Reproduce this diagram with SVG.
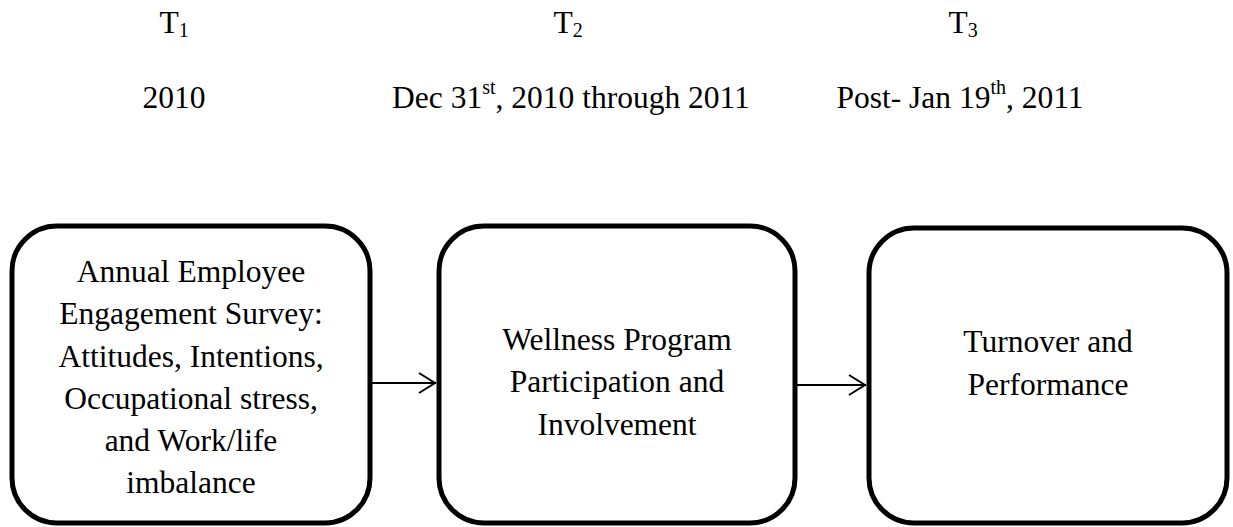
<svg xmlns="http://www.w3.org/2000/svg" width="1233" height="527" viewBox="0 0 1233 527">
<style>
text{font-family:"Liberation Serif","Times New Roman",serif;font-size:31.5px;fill:#000;text-anchor:middle}
.box{fill:#fff;stroke:#000;stroke-width:5}
.conn{stroke:#000;stroke-width:2;fill:none}
.sm{font-size:20px}
</style>
<rect width="1233" height="527" fill="#fff"/>
<g id="timeline">
<text x="174" y="33">T<tspan class="sm" dy="4">1</tspan></text>
<text x="568" y="33">T<tspan class="sm" dy="4">2</tspan></text>
<text x="963" y="33">T<tspan class="sm" dy="4">3</tspan></text>
<text x="174" y="108">2010</text>
<text x="571" y="108">Dec 31<tspan class="sm" dy="-14">st</tspan><tspan dy="14">, 2010 through 2011</tspan></text>
<text x="960" y="108">Post- Jan 19<tspan class="sm" dy="-14">th</tspan><tspan dy="14">, 2011</tspan></text>
</g>
<g id="node1">
<rect class="box" x="12" y="226" width="358" height="297" rx="45" ry="45"/>
<text x="191" y="282">Annual Employee</text>
<text x="191" y="324">Engagement Survey:</text>
<text x="191" y="367">Attitudes, Intentions,</text>
<text x="191" y="409">Occupational stress,</text>
<text x="191" y="451">and Work/life</text>
<text x="191" y="493">imbalance</text>
</g>
<g id="node2">
<rect class="box" x="439" y="226" width="356" height="297" rx="45" ry="45"/>
<text x="617" y="350">Wellness Program</text>
<text x="617" y="392">Participation and</text>
<text x="617" y="435">Involvement</text>
</g>
<g id="node3">
<rect class="box" x="869" y="228" width="358" height="295" rx="45" ry="45"/>
<text x="1048" y="352">Turnover and</text>
<text x="1048" y="395">Performance</text>
</g>
<g id="connectors">
<line class="conn" x1="372" y1="383" x2="436" y2="383"/>
<polyline class="conn" points="419,373 435,383 419,393"/>
<line class="conn" x1="797" y1="385" x2="866" y2="385"/>
<polyline class="conn" points="849,375 865,385 849,395"/>
</g>
</svg>
